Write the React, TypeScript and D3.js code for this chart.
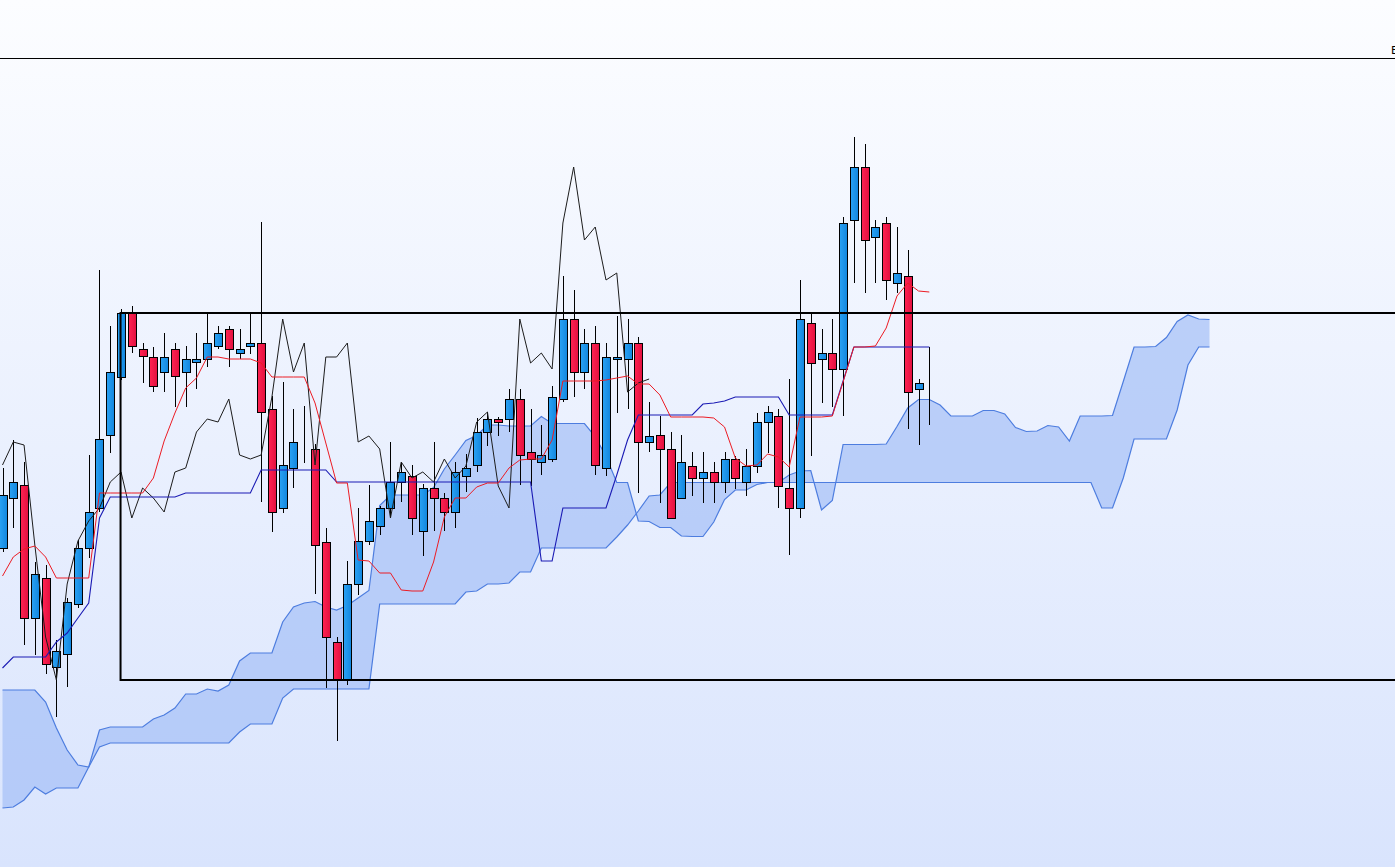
import React from "react";
import * as d3 from "d3";

const W = 1395;
const H = 867;
const LAG = 26;

// candles (price units)
const opens = [
  452, 502, 515, 382, 422, 333, 346, 396, 452, 492,
  565, 623, 687, 651, 643, 628, 651, 628, 638, 641,
  654, 671, 647, 654, 657, 591, 492, 532, 555, 551,
  458, 358, 320, 416, 459, 474, 492, 518, 524, 469,
  512, 502, 488, 524, 535, 568, 581, 581, 601, 548,
  538, 541, 601, 681, 628, 657, 532, 641, 641, 657,
  558, 565, 551, 502, 534, 522, 528, 518, 541, 518,
  534, 578, 584, 512, 492, 677, 641, 647, 631, 780,
  833, 763, 777, 717, 724, 611, 621,
];
const highs = [
  532, 560, 538, 438, 435, 360, 402, 460, 545, 730,
  674, 691, 694, 657, 653, 667, 657, 654, 667, 686,
  674, 674, 671, 686, 778, 604, 618, 591, 594, 556,
  472, 363, 439, 492, 515, 494, 558, 538, 535, 516,
  558, 507, 538, 546, 582, 588, 583, 611, 611, 591,
  575, 614, 724, 710, 671, 674, 657, 684, 681, 663,
  598, 584, 568, 565, 548, 548, 538, 548, 544, 551,
  587, 594, 591, 621, 720, 687, 671, 681, 783, 863,
  856, 780, 783, 773, 750, 621, 653,
];
const lows = [
  448, 472, 355, 345, 326, 283, 313, 392, 442, 488,
  547, 620, 647, 617, 608, 608, 593, 593, 611, 633,
  651, 633, 641, 646, 498, 468, 487, 512, 537, 406,
  312, 259, 315, 405, 455, 465, 482, 498, 465, 444,
  469, 469, 472, 508, 528, 554, 564, 568, 515, 514,
  525, 538, 598, 603, 611, 525, 524, 587, 591, 507,
  548, 497, 482, 501, 504, 497, 497, 507, 511, 504,
  527, 547, 492, 445, 482, 544, 597, 593, 584, 717,
  707, 717, 700, 707, 571, 555, 575,
];
const closes = [
  505, 518, 382, 426, 336, 349, 398, 452, 488, 561,
  628, 687, 654, 644, 614, 643, 624, 641, 641, 657,
  667, 651, 651, 657, 588, 488, 535, 558, 555, 455,
  363, 320, 416, 459, 479, 492, 518, 528, 482, 512,
  502, 488, 528, 532, 568, 581, 578, 601, 545, 541,
  545, 603, 681, 628, 657, 535, 643, 643, 657, 558,
  564, 551, 482, 538, 522, 528, 518, 541, 522, 534,
  578, 588, 514, 492, 681, 637, 647, 631, 777, 833,
  760, 773, 720, 727, 608, 617, 621,
];

// ichimoku lines
const tenkan = [
  424, 443, 451, 454, 443, 422, 422, 422, 422, 507,
  507, 507, 507, 507, 522, 559, 587, 612, 622, 643,
  643, 641, 641, 641, 637, 623, 623, 623, 623, 597,
  557, 517, 517, 440, 439, 427, 427, 410, 409, 409,
  438, 483, 502, 502, 513, 517, 517, 532, 540, 541,
  541, 560, 619, 619, 619, 619, 620, 622, 624, 616,
  616, 605, 583, 583, 583, 583, 582, 573, 542, 534,
  535, 546, 543, 533, 583, 583, 583, 584, 618, 653,
  653, 654, 672, 704, 717, 709, 708,
];
const kijun = [
  332, 343, 343, 343, 343, 358, 367, 382, 397, 482,
  503, 503, 503, 503, 503, 503, 503, 507, 507, 507,
  507, 507, 507, 507, 530, 530, 530, 530, 530, 530,
  530, 518, 518, 518, 518, 518, 518, 518, 518, 518,
  518, 518, 518, 518, 518, 518, 518, 518, 518, 518,
  439, 439, 492, 492, 492, 492, 492, 525, 560, 585,
  585, 585, 585, 585, 585, 596, 597, 599, 603, 603,
  603, 603, 603, 585, 585, 585, 585, 585, 619, 653,
  653, 653, 653, 653, 653, 653, 653,
];
const spanA = [
  192, 193, 200, 213, 206, 212, 212, 212, 233, 270,
  273, 273, 273, 273, 281, 285, 292, 306, 306, 311,
  309, 315, 339, 347, 347, 347, 378, 393, 397, 398.5,
  393, 390, 394.5, 402, 409.5, 494.5, 505, 505, 505, 505,
  512.5, 531, 545, 559.5, 564.5, 575, 575, 574, 574, 574,
  583.5, 576.5, 576.5, 576.5, 576.5, 563.5, 543.5, 517.5, 517.5, 479,
  478.5, 472.5, 472.5, 464, 463.5, 463.5, 478, 500.5, 510, 510,
  515.5, 517.5, 517.5, 525, 529, 529.5, 490, 499.5, 555.5, 555.5,
  555.5, 555.5, 556, 573.5, 592, 600.5, 600.5, 595, 584, 584,
  584, 589.5, 589.5, 586, 572.5, 568.5, 569, 574.5, 573, 559,
  584, 584, 584, 584.5, 618.5, 653, 653, 653.5, 662.5, 678.5,
  685, 681, 680.5,
];
const spanB = [
  310, 310, 310, 310, 298, 272, 250, 235, 233, 253,
  257, 257, 257, 257, 257, 257, 257, 257, 257, 257,
  257, 257, 268, 276, 276, 276, 302, 311, 311, 311,
  311, 311, 311, 311, 311, 396, 396, 396, 396, 396,
  396, 396, 396, 408, 409, 416, 416, 417, 428, 428,
  452, 452, 452, 452, 452, 452, 452, 463, 475, 489,
  504, 505, 517.5, 517.5, 517.5, 517.5, 517.5, 517.5, 517.5, 517.5,
  517.5, 517.5, 517.5, 517.5, 517.5, 517.5, 517.5, 517.5, 517.5, 517.5,
  517.5, 517.5, 517.5, 517.5, 517.5, 517.5, 517.5, 517.5, 517.5, 517.5,
  517.5, 517.5, 517.5, 517.5, 517.5, 517.5, 517.5, 517.5, 517.5, 517.5,
  517.5, 517.5, 492, 492, 522, 561, 561, 561, 561, 590,
  635, 653, 653,
];

// drawn rectangle: starts at candle 11, between two price levels
const boxStart = 11;
const boxTop = 687;
const boxBottom = 320;

export default function App() {
  const x = d3.scaleLinear().domain([0, 112]).range([2.5, 1209.5]);
  const y = d3.scaleLinear().domain([200, 900]).range([800, 100]);

  const lineOf = (vals: number[]) =>
    d3
      .line<number>()
      .x((_, i) => x(i))
      .y((v) => y(v))(vals) || "";

  const cloud =
    d3
      .area<number>()
      .x((i) => x(i))
      .y0((i) => y(spanB[i]))
      .y1((i) => y(spanA[i]))(d3.range(spanA.length)) || "";

  const chikou = closes.slice(LAG);

  return (
    <div>
      <style>{`body{margin:0;overflow:hidden}`}</style>
      <svg width={W} height={H} style={{ display: "block" }}>
        <defs>
          <linearGradient id="bg" x1="0" y1="0" x2="0" y2="1">
            <stop offset="0" stopColor="#fcfdff" />
            <stop offset="1" stopColor="#d9e4fd" />
          </linearGradient>
          <linearGradient id="up" x1="0" y1="0" x2="1" y2="0">
            <stop offset="0" stopColor="#2aa2f4" />
            <stop offset="1" stopColor="#1286de" />
          </linearGradient>
          <linearGradient id="down" x1="0" y1="0" x2="1" y2="0">
            <stop offset="0" stopColor="#ff2352" />
            <stop offset="1" stopColor="#e2103f" />
          </linearGradient>
        </defs>
        <rect x={0} y={0} width={W} height={H} fill="url(#bg)" />
        <line x1={0} x2={W} y1={58.5} y2={58.5} stroke="#000" strokeWidth={1} />
        <text x={1391} y={54} fontFamily="DejaVu Sans, sans-serif" fontSize={11} fill="#000">
          E
        </text>

        {/* kumo */}
        <path d={cloud} fill="#a6c0f6" fillOpacity={0.72} stroke="none" />
        <path d={lineOf(spanA)} fill="none" stroke="#4d7ddf" strokeWidth={1.2} />
        <path d={lineOf(spanB)} fill="none" stroke="#4d7ddf" strokeWidth={1.2} />

        {/* candles */}
        <g>
          {opens.map((o, i) => {
            const c = closes[i];
            const cx = Math.round(x(i)) + 0.5;
            const top = y(Math.max(o, c));
            const bot = y(Math.min(o, c));
            return (
              <g key={i}>
                <line x1={cx} x2={cx} y1={y(highs[i])} y2={y(lows[i])} stroke="#000" strokeWidth={1} />
                <rect
                  x={cx - 4}
                  y={Math.round(top) + 0.5}
                  width={8}
                  height={Math.max(0, Math.round(bot - top))}
                  fill={c >= o ? "url(#up)" : "url(#down)"}
                  stroke="#000"
                  strokeWidth={1}
                />
              </g>
            );
          })}
        </g>

        {/* lines */}
        <path d={lineOf(chikou)} fill="none" stroke="#1c1c1c" strokeWidth={1} />
        <path d={lineOf(kijun)} fill="none" stroke="#1a1ab4" strokeWidth={1.1} />
        <path d={lineOf(tenkan)} fill="none" stroke="#ec1c24" strokeWidth={1} />

        {/* box */}
        <rect
          x={x(boxStart) - 0.5}
          y={y(boxTop)}
          width={W - x(boxStart) + 10}
          height={y(boxBottom) - y(boxTop)}
          fill="none"
          stroke="#000"
          strokeWidth={2}
        />
      </svg>
    </div>
  );
}
